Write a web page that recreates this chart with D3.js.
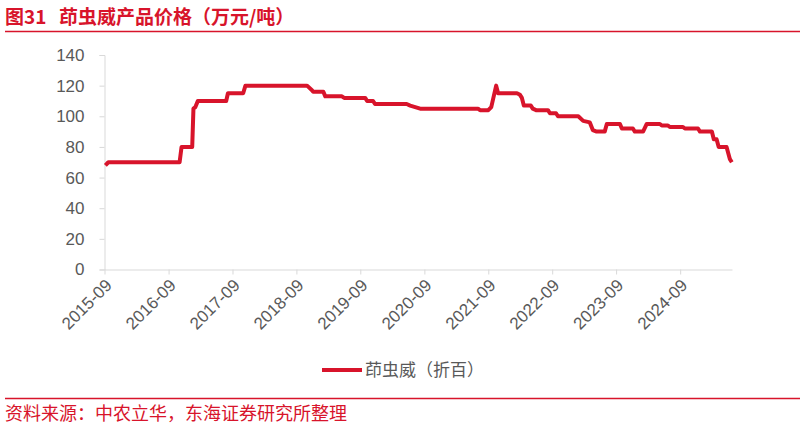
<!DOCTYPE html>
<html lang="zh-CN">
<head>
    <meta charset="utf-8">
    <title>茚虫威产品价格</title>
    <style>
        body { margin: 0; background: #fff; }
        svg text { font-family: "Liberation Sans", Arial, "Noto Sans CJK SC", sans-serif; }
        .cjk { font-family: "Noto Sans CJK SC", sans-serif; }
    </style>
    <script src="https://d3js.org/d3.v7.min.js" charset="utf-8"></script>
</head>
<body>
    <svg id="chart" width="805" height="428"></svg>

    <script type="text/javascript">
    // 茚虫威（折百）价格，万元/吨，读图所得的拐点
    var dates = [
        "2015-09-06", "2015-09-23", "2016-11-03", "2016-11-14", "2017-01-14", "2017-01-21",
        "2017-02-01", "2017-02-15", "2017-07-27", "2017-08-06", "2017-11-01", "2017-11-14",
        "2018-11-01", "2018-11-29", "2018-12-06", "2019-02-02", "2019-02-13", "2019-05-19",
        "2019-06-01", "2019-09-29", "2019-10-10", "2019-11-13", "2019-11-24", "2020-05-23",
        "2020-06-12", "2020-08-08", "2021-07-04", "2021-07-16", "2021-09-01", "2021-09-18",
        "2021-10-16", "2021-10-27", "2022-02-12", "2022-03-01", "2022-03-12", "2022-03-23",
        "2022-05-02", "2022-05-13", "2022-06-01", "2022-08-08", "2022-08-19", "2022-09-23",
        "2022-10-04", "2023-01-28", "2023-02-25", "2023-04-04", "2023-04-21", "2023-05-13",
        "2023-06-28", "2023-07-10", "2023-09-23", "2023-10-04", "2023-12-06", "2023-12-17",
        "2024-02-02", "2024-02-23", "2024-05-08", "2024-05-19", "2024-06-23", "2024-07-04",
        "2024-09-17", "2024-09-28", "2024-12-12", "2024-12-23", "2025-03-01", "2025-03-12",
        "2025-03-28", "2025-04-09", "2025-05-24", "2025-06-12", "2025-06-23"
    ];
    var prices = [
        68, 70, 70, 80, 80, 105,
        106, 110, 110, 115, 115, 120,
        120, 117, 116, 116, 113, 113,
        112, 112, 110, 110, 108, 108,
        107, 105, 105, 104, 104, 106,
        120, 115, 115, 114, 112, 107,
        107, 105, 104, 104, 102, 102,
        100, 100, 97, 96, 91, 90,
        90, 95, 95, 92, 92, 90,
        90, 95, 95, 94, 94, 93,
        93, 92, 92, 90, 90, 85,
        85, 80, 80, 72, 70
    ];
    var yTicks = [0, 20, 40, 60, 80, 100, 120, 140];
    var xTickLabels = ["2015-09", "2016-09", "2017-09", "2018-09", "2019-09",
                       "2020-09", "2021-09", "2022-09", "2023-09", "2024-09"];
    var seriesName = "茚虫威（折百）";

    var red = "#d8142b";
    var grey = "#595959";
    var parse = d3.timeParse("%Y-%m-%d");
    var data = dates.map(function (d, i) { return { date: parse(d), value: prices[i] }; });

    var svg = d3.select("#chart");

    // title + rule
    svg.append("text")
        .attr("class", "cjk")
        .attr("x", 5).attr("y", 24)
        .attr("fill", red)
        .attr("font-size", "19px")
        .attr("font-weight", "bold")
        .text("图31");
    svg.append("text")
        .attr("class", "cjk")
        .attr("x", 59).attr("y", 24)
        .attr("fill", red)
        .attr("font-size", "19px")
        .attr("font-weight", "bold")
        .text("茚虫威产品价格（万元/吨）");
    svg.append("line")
        .attr("x1", 5).attr("x2", 800)
        .attr("y1", 31.5).attr("y2", 31.5)
        .attr("stroke", red).attr("stroke-width", 1.5);

    var x = d3.scaleTime()
        .domain([parse("2015-09-01"), parse("2025-06-24")])
        .range([104.5, 732]);
    var y = d3.scaleLinear()
        .domain([0, 140])
        .range([269.5, 55]);

    // y axis
    var yAxis = svg.append("g")
        .attr("transform", "translate(104.5,0)")
        .call(d3.axisLeft(y).tickValues(yTicks).tickSize(5).tickPadding(15));
    yAxis.select(".domain").attr("stroke", "#d9d9d9");
    yAxis.selectAll(".tick line").attr("stroke", "#d9d9d9");
    yAxis.selectAll(".tick text")
        .attr("fill", grey)
        .attr("font-size", "17px")
        .attr("font-family", "Liberation Sans, Arial, sans-serif");

    // x axis
    var xTicks = xTickLabels.map(function (s) { return d3.timeParse("%Y-%m")(s); });
    var xAxis = svg.append("g")
        .attr("transform", "translate(0,269.5)")
        .call(d3.axisBottom(x).tickValues(xTicks).tickFormat(d3.timeFormat("%Y-%m"))
            .tickSize(5).tickSizeOuter(0));
    xAxis.select(".domain").attr("stroke", "#d9d9d9");
    xAxis.selectAll(".tick line").attr("stroke", "#d9d9d9");
    xAxis.selectAll(".tick text")
        .attr("fill", grey)
        .attr("font-size", "17px")
        .attr("font-family", "Liberation Sans, Arial, sans-serif")
        .attr("text-anchor", "end")
        .attr("dy", "0.35em")
        .attr("transform", "translate(-2,7) rotate(-45)");

    // the line
    var line = d3.line()
        .x(function (d) { return x(d.date); })
        .y(function (d) { return y(d.value); });
    svg.append("path")
        .datum(data)
        .attr("fill", "none")
        .attr("stroke", red)
        .attr("stroke-width", 4)
        .attr("stroke-linejoin", "round")
        .attr("d", line);

    // legend
    svg.append("line")
        .attr("x1", 322).attr("x2", 362)
        .attr("y1", 370).attr("y2", 370)
        .attr("stroke", red).attr("stroke-width", 4);
    svg.append("text")
        .attr("class", "cjk")
        .attr("x", 365).attr("y", 376)
        .attr("fill", grey)
        .attr("font-size", "17px")
        .text(seriesName);

    // source
    svg.append("line")
        .attr("x1", 5).attr("x2", 800)
        .attr("y1", 398.5).attr("y2", 398.5)
        .attr("stroke", red).attr("stroke-width", 1.5);
    svg.append("text")
        .attr("class", "cjk")
        .attr("x", 5).attr("y", 420)
        .attr("fill", red)
        .attr("font-size", "18px")
        .text("资料来源：中农立华，东海证券研究所整理");
    </script>
</body>
</html>
